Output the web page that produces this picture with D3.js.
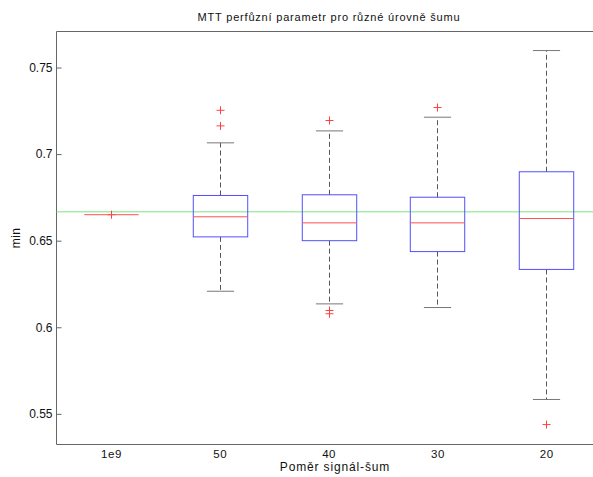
<!DOCTYPE html>
<html>
<head>
<meta charset="utf-8">
<script src="https://cdn.jsdelivr.net/npm/d3@7"></script>
<style>
  html, body { margin: 0; padding: 0; background: #fff; }
  svg { display: block; }
  text { font-family: "Liberation Sans", Arial, sans-serif; }
</style>
</head>
<body>
<svg id="chart" width="593" height="477"></svg>
<script>
// ---- data ----
const categories  = ["1e9", "50", "40", "30", "20"];
const q1          = [0.6650, 0.6522, 0.6500, 0.6437, 0.6334];
const medians     = [0.6650, 0.6638, 0.6603, 0.6603, 0.6628];
const q3          = [0.6650, 0.6761, 0.6765, 0.6751, 0.6898];
const whiskerLow  = [0.6650, 0.6208, 0.6135, 0.6114, 0.5583];
const whiskerHigh = [0.6650, 0.7065, 0.7134, 0.7213, 0.7598];
const outliers    = [[0.6650], [0.7253, 0.7163], [0.7194, 0.6097, 0.6078], [0.7269], [0.5438]];
const refValue    = 2 / 3;
const yTicks      = [0.55, 0.6, 0.65, 0.7, 0.75];
const yDomain     = [0.5323, 0.7708];

const title  = "MTT perfůzní parametr pro různé úrovně šumu";
const xLabel = "Poměr signál-šum";
const yLabel = "min";

// ---- layout ----
const plotLeft = 56.5, plotTop = 31.5, plotBottom = 444.5, step = 108.85;
const plotRight = plotLeft + step * categories.length;

const svg = d3.select("#chart");
const x = d3.scaleLinear().domain([0.5, categories.length + 0.5]).range([plotLeft, plotRight]);
const y = d3.scaleLinear().domain(yDomain).range([plotBottom, plotTop]);

const boxHalf = step * 0.25, capHalf = step * 0.125;

// axes frame
svg.append("line").attr("x1", plotLeft).attr("x2", plotRight).attr("y1", plotTop).attr("y2", plotTop)
  .attr("stroke", "#666").attr("stroke-width", 1);
svg.append("line").attr("x1", plotLeft).attr("x2", plotRight).attr("y1", plotBottom).attr("y2", plotBottom)
  .attr("stroke", "#666").attr("stroke-width", 1);
svg.append("line").attr("x1", plotRight).attr("x2", plotRight).attr("y1", plotTop).attr("y2", plotBottom)
  .attr("stroke", "#666").attr("stroke-width", 1);

// y axis (ticks inward)
const yAxis = d3.axisLeft(y).tickValues(yTicks).tickSize(-5).tickPadding(4)
  .tickFormat(d => String(+d.toFixed(2)));
const gy = svg.append("g").attr("transform", `translate(${plotLeft},0)`).call(yAxis);
gy.select(".domain").attr("stroke", "#666").attr("d", `M0,${plotTop}V${plotBottom}`);
gy.selectAll(".tick line").attr("stroke", "#666");
gy.selectAll(".tick text").attr("fill", "#111").attr("font-size", 12)
  .attr("font-family", "Liberation Sans, Arial, sans-serif");

// x axis labels (no ticks)
const xAxis = d3.axisBottom(x).tickValues(d3.range(1, categories.length + 1))
  .tickSize(0).tickPadding(5).tickFormat(i => categories[i - 1]);
const gx = svg.append("g").attr("transform", `translate(0,${plotBottom})`).call(xAxis);
gx.select(".domain").remove();
gx.selectAll(".tick text").attr("fill", "#111").attr("font-size", 11.5)
  .attr("letter-spacing", "0.6px")
  .attr("font-family", "Liberation Sans, Arial, sans-serif");

// reference line
svg.append("line").attr("x1", plotLeft).attr("x2", plotRight)
  .attr("y1", y(refValue)).attr("y2", y(refValue))
  .attr("stroke", "#7ee47e").attr("stroke-width", 1);

// boxes
categories.forEach((c, i) => {
  const cx = Math.round(x(i + 1)) + 0.5;
  const g = svg.append("g");
  // whiskers
  g.append("line").attr("x1", cx).attr("x2", cx).attr("y1", y(q3[i])).attr("y2", y(whiskerHigh[i]))
    .attr("stroke", "#555").attr("stroke-dasharray", "5,3");
  g.append("line").attr("x1", cx).attr("x2", cx).attr("y1", y(q1[i])).attr("y2", y(whiskerLow[i]))
    .attr("stroke", "#555").attr("stroke-dasharray", "5,3");
  // caps
  if (whiskerHigh[i] !== q3[i]) {
    g.append("line").attr("x1", cx - capHalf).attr("x2", cx + capHalf)
      .attr("y1", y(whiskerHigh[i])).attr("y2", y(whiskerHigh[i])).attr("stroke", "#777");
    g.append("line").attr("x1", cx - capHalf).attr("x2", cx + capHalf)
      .attr("y1", y(whiskerLow[i])).attr("y2", y(whiskerLow[i])).attr("stroke", "#777");
  }
  // box
  if (q3[i] !== q1[i]) {
    g.append("rect").attr("x", cx - boxHalf).attr("width", 2 * boxHalf)
      .attr("y", y(q3[i])).attr("height", y(q1[i]) - y(q3[i]))
      .attr("fill", "none").attr("stroke", "#5050ff");
  }
  // outliers
  outliers[i].forEach(v => {
    const oy = y(v);
    g.append("path").attr("d", `M${cx - 4},${oy}H${cx + 4}M${cx},${oy - 4}V${oy + 4}`)
      .attr("stroke", "#ff4040").attr("fill", "none");
  });
  // median
  g.append("line").attr("x1", cx - boxHalf).attr("x2", cx + boxHalf)
    .attr("y1", y(medians[i])).attr("y2", y(medians[i]))
    .attr("stroke", "#ff5050");
});

// titles
svg.append("text").attr("x", 329).attr("y", 21).attr("text-anchor", "middle")
  .attr("font-size", 11).attr("letter-spacing", "0.8px").attr("fill", "#111").text(title);
svg.append("text").attr("x", 335).attr("y", 471).attr("text-anchor", "middle")
  .attr("font-size", 12).attr("letter-spacing", "0.85px").attr("fill", "#111").text(xLabel);
svg.append("text").attr("transform", "translate(20,238) rotate(-90)").attr("text-anchor", "middle")
  .attr("font-size", 12).attr("letter-spacing", "0.3px").attr("fill", "#111").text(yLabel);
</script>
</body>
</html>
